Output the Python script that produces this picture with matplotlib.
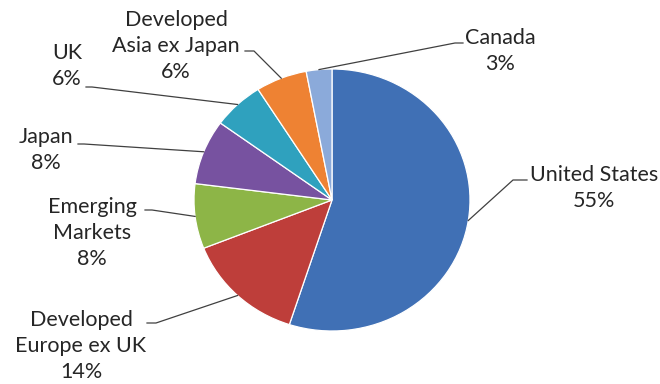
import numpy as np
import matplotlib.pyplot as plt

# Regional weights (%)
regions = ["United States", "Developed\nEurope ex UK", "Emerging\nMarkets", "Japan",
           "UK", "Developed\nAsia ex Japan", "Canada"]
weights = [55, 14, 8, 8, 6, 6, 3]
colors = ["#4070B5", "#BE3E3A", "#8DB547", "#7752A0", "#2FA1BE", "#EE8233", "#8BAADA"]

# where each label block sits (pixels from top-left) and where its leader starts
label_pos = [(594, 188), (81, 346), (92, 233), (46, 150), (67, 66), (176, 46), (500, 51)]
line_start = [(527, 180), (147, 323), (145, 210), (78, 144), (86, 87), (245, 51), (463, 43)]
line_bend = [(513, 180), (156, 323), (152, 210), (84, 144), (92, 87), (254, 51), (455, 43)]

W, H = 660, 384
cx, cy, rx, ry = 332, 200, 138, 131

plt.rcParams["font.family"] = ["Lato", "DejaVu Sans"]
fig = plt.figure(figsize=(W / 100, H / 100), dpi=100)
ax = fig.add_axes([(cx - rx) / W, (H - cy - ry) / H, 2 * rx / W, 2 * ry / H])

wedges, _ = ax.pie(weights, colors=colors, startangle=90, counterclock=False,
                   radius=1, wedgeprops=dict(edgecolor="white", linewidth=0.9))
ax.set_aspect("auto")
ax.set_xlim(-1, 1)
ax.set_ylim(-1, 1)
ax.axis("off")


def px(x, y):
    # pixel position -> pie data coordinates
    return (x - cx) / rx, (cy - y) / ry


for w, name, val, pos, s, b in zip(wedges, regions, weights, label_pos, line_start, line_bend):
    mid = np.deg2rad((w.theta1 + w.theta2) / 2)
    ex, ey = np.cos(mid), np.sin(mid)
    p0, p1 = px(*s), px(*b)
    ax.plot([p0[0], p1[0], ex], [p0[1], p1[1], ey], color="#404040", lw=0.9,
            clip_on=False, zorder=3)
    tx, ty = px(*pos)
    ax.text(tx, ty, f"{name}\n{val}%", ha="center", va="center", fontsize=15.5,
            linespacing=1.4, color="#262626", clip_on=False)

fig.savefig("out.png", dpi=100, facecolor="white")
